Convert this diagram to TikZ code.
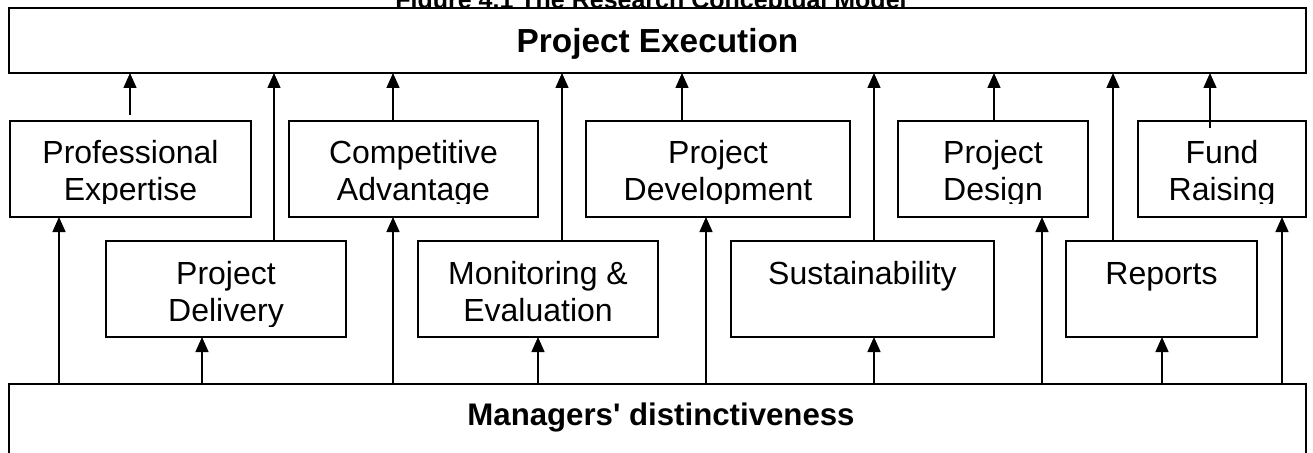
\documentclass[tikz,border=0pt]{standalone}
\usepackage{fontspec}
\setmainfont{Liberation Sans}
\usetikzlibrary{arrows.meta}
\newdimen\pxu \pxu=0.75pt
\begin{document}
\begin{tikzpicture}[x=0.75pt, y=-0.75pt,
  box/.style={draw, line width=1.3pt, inner sep=0pt, outer sep=0pt},
  cell/.style={box, minimum width=#1*\pxu, minimum height=96*\pxu},
  lbl/.style={anchor=base, inner sep=0pt, font=\fontsize{24}{27.75}\selectfont},
  head/.style={anchor=base, inner sep=0pt, font=\fontsize{#1}{28}\selectfont\bfseries},
  arr/.style={line width=1.1pt, -{Triangle[length=11.25pt, width=9.75pt]}}
]
\useasboundingbox (0,0) rectangle (1313,453);
\clip (0,0) rectangle (1313,453);

% caption, partly hidden behind the top bar
\node[anchor=base, inner sep=0pt, font=\fontsize{18.75}{22}\selectfont\bfseries]
  (title) at (651,9) {Figure 4.1 The Research Conceptual Model};

% outcome and source bars
\node[box, fill=white, minimum width=1297*\pxu, minimum height=65*\pxu] (top) at (657.5,40.5) {};
\node[head=25] (top-t) at (657.5,53) {Project Execution};
\node[box, minimum width=1297*\pxu, minimum height=96*\pxu] (bot) at (657.5,432) {};
\node[head=23.4] (bot-t) at (661,425) {Managers\textquotesingle{} distinctiveness};

% upper row of factors
\node[cell=241] (pe) at (130.5,169) {};
\node[cell=249] (ca) at (413.5,169) {};
\node[cell=264] (pd) at (718,169) {};
\node[cell=190] (pg) at (993,169) {};
\node[cell=168] (fr) at (1222,169) {};

% lower row of factors
\node[cell=240] (dl) at (226,289) {};
\node[cell=240] (me) at (538,289) {};
\node[cell=263] (su) at (862.5,289) {};
\node[cell=191] (rp) at (1161.5,289) {};

% labels, cut off just above the bottom of each box
\begin{scope}\clip (pe.north west) rectangle ([yshift=10.5pt]pe.south east);
  \node[lbl] (pe-t) at (130.5,163) {\begin{tabular}[t]{@{}c@{}}Professional\\Expertise\end{tabular}};
\end{scope}
\begin{scope}\clip (ca.north west) rectangle ([yshift=10.5pt]ca.south east);
  \node[lbl] (ca-t) at (413.5,163) {\begin{tabular}[t]{@{}c@{}}Competitive\\Advantage\end{tabular}};
\end{scope}
\begin{scope}\clip (pd.north west) rectangle ([yshift=10.5pt]pd.south east);
  \node[lbl] (pd-t) at (718,163) {\begin{tabular}[t]{@{}c@{}}Project\\Development\end{tabular}};
\end{scope}
\begin{scope}\clip (pg.north west) rectangle ([yshift=10.5pt]pg.south east);
  \node[lbl] (pg-t) at (993,163) {\begin{tabular}[t]{@{}c@{}}Project\\Design\end{tabular}};
\end{scope}
\begin{scope}\clip (fr.north west) rectangle ([yshift=10.5pt]fr.south east);
  \node[lbl] (fr-t) at (1222,163) {\begin{tabular}[t]{@{}c@{}}Fund\\Raising\end{tabular}};
\end{scope}
\begin{scope}\clip (dl.north west) rectangle ([yshift=8pt]dl.south east);
  \node[lbl] (dl-t) at (226,284) {\begin{tabular}[t]{@{}c@{}}Project\\Delivery\end{tabular}};
\end{scope}
\begin{scope}\clip (me.north west) rectangle ([yshift=8pt]me.south east);
  \node[lbl] (me-t) at (538,284) {\begin{tabular}[t]{@{}c@{}}Monitoring \&\\Evaluation\end{tabular}};
\end{scope}
\node[lbl] (su-t) at (862.5,284) {Sustainability};
\node[lbl] (rp-t) at (1161.5,284) {Reports};

% factors feeding project execution
\draw[arr] (130,0 |- pe.north) ++(0,-6) -- (130,0 |- top.south);
\draw[arr] (393,0 |- ca.north) -- (393,0 |- top.south);
\draw[arr] (682,0 |- pd.north) -- (682,0 |- top.south);
\draw[arr] (994,0 |- pg.north) -- (994,0 |- top.south);
\draw[arr] (1210,0 |- fr.north) ++(0,7) -- (1210,0 |- top.south);
\draw[arr] (274,0 |- dl.north) -- (274,0 |- top.south);
\draw[arr] (562,0 |- me.north) -- (562,0 |- top.south);
\draw[arr] (874,0 |- su.north) -- (874,0 |- top.south);
\draw[arr] (1113,0 |- rp.north) -- (1113,0 |- top.south);

% managers' distinctiveness feeding each factor
\draw[arr] (59,0 |- bot.north) -- (59,0 |- pe.south);
\draw[arr] (393,0 |- bot.north) -- (393,0 |- ca.south);
\draw[arr] (706,0 |- bot.north) -- (706,0 |- pd.south);
\draw[arr] (1042,0 |- bot.north) -- (1042,0 |- pg.south);
\draw[arr] (1282,0 |- bot.north) -- (1282,0 |- fr.south);
\draw[arr] (202,0 |- bot.north) -- (202,0 |- dl.south);
\draw[arr] (538,0 |- bot.north) -- (538,0 |- me.south);
\draw[arr] (874,0 |- bot.north) -- (874,0 |- su.south);
\draw[arr] (1162,0 |- bot.north) -- (1162,0 |- rp.south);
\end{tikzpicture}
\end{document}
